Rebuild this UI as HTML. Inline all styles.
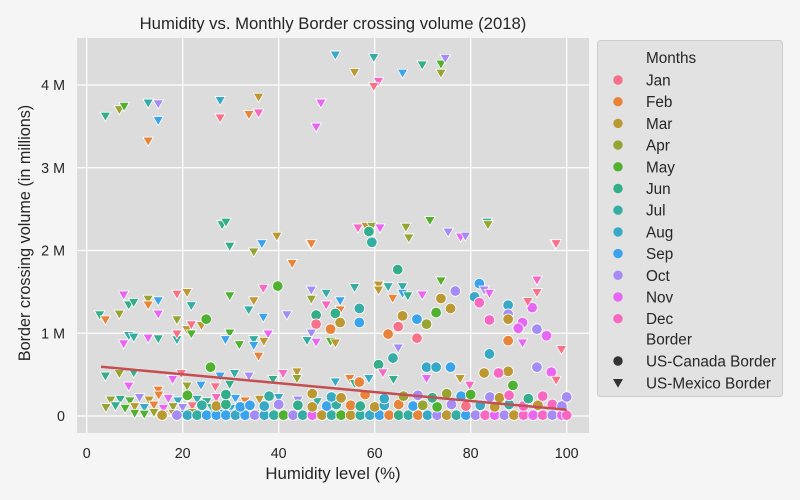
<!DOCTYPE html>
<html><head><meta charset="utf-8">
<style>
html,body{margin:0;padding:0;background:#f5f5f5;}
svg{display:block;font-family:"Liberation Sans","DejaVu Sans",sans-serif;}
</style></head>
<body>
<svg id="chart" width="800" height="500" viewBox="0 0 800 500">
<rect x="0" y="0" width="800" height="500" fill="#f5f5f5"/>
<text x="333" y="29" text-anchor="middle" font-size="16.7" fill="#262626">Humidity vs. Monthly Border crossing volume (2018)</text>
<rect x="77" y="38" width="512" height="395" fill="#dcdcdc"/>
<g id="grid"></g>
<g id="points"></g>
<g id="trend"></g>
<g id="ticks"></g>
<text x="333" y="479" text-anchor="middle" font-size="16.8" fill="#262626">Humidity level (%)</text>
<text x="30" y="233" text-anchor="middle" font-size="16.2" fill="#262626" transform="rotate(-90 30 233)">Border crossing volume (in millions)</text>
<g id="legend"></g>
</svg>
<script>
const monthNames=["Jan","Feb","Mar","Apr","May","Jun","Jul","Aug","Sep","Oct","Nov","Dec"];
const monthColors=["#f77189","#e8833a","#bb9832","#97a431","#50b131","#34ae8a","#36ada4","#38a9c5","#3ba3ec","#a48cf4","#e866f4","#f668c2"];
const xTicks=[0,20,40,60,80,100];
const yTicks=[0,1,2,3,4];
const yTickLabels=["0","1 M","2 M","3 M","4 M"];
const trendHum=[3,100];
const trendVol=[0.595,0.075];
// humidity (%), volume (millions), month index (0=Jan), border (C=US-Canada, M=US-Mexico)
const humidity=[
51.8,59.8,55.8,65.8,69.9,73.8,74.7,73.8,60.8,59.8,3.9,6.8,7.8,12.8,14.9,14.9,12.8,27.8,27.8,35.8,33.8,35.8,48.8,47.8,
28.2,29.0,29.9,36.5,39.6,46.7,56.5,58.2,59.4,61.1,66.5,67.1,71.5,75.3,83.4,83.6,77.9,78.9,97.6,58.8,59.4,
29.8,34.8,42.8,46.8,39.8,64.8,7.7,8.75,9.8,2.7,3.9,6.8,12.8,12.8,14.9,14.9,18.8,20.9,21.8,18.8,20.9,21.8,23.9,24.9,21.8,18.8,18.8,8.75,9.8,7.7,12.8,14.9,
29.8,29.8,34.8,33.75,36.8,36.8,41.7,37.8,28.9,31.8,34.8,34.8,36.9,35.8,46.8,46.8,49.9,49.9,52.8,52.8,55.8,47.8,51.8,47.8,50.8,52.8,56.8,56.8,46.8,47.8,45.9,50.8,51.8,
60.8,60.8,62.8,65.8,65.8,66.9,63.75,69.9,73.8,73.8,76.8,72.8,75.8,65.8,68.8,70.8,62.8,64.9,68.8,64.9,63.8,60.8,
81.8,80.8,81.8,82.8,83.9,83.9,87.8,87.8,87.8,87.8,90.8,89.9,92.8,91.9,93.8,93.8,93.8,95.8,90.8,98.9,97.8,83.9,82.8,70.8,72.8,75.8,93.8,96.8,87.8,85.8,88.8,97.8,25.8,77.8,79.8,70.8,61.7,40.9,43.8,43.8,
3.9,6.8,9.8,8.75,19.7,27.8,30.8,33.8,38.8,26.8,29.8,23.8,17.9,14.9,20.9,51.8,54.8,58.8,55.8,56.8,63.9,
5,7,9,11,13,15,17,19,21,23,25,27,29,31,33,36,40,44,48,
4,6,8,10,12,14,16,18,20,22,24,26,28,30,32,34,
10,12,14,16,18,20,22,24,26,28,30,35,42,47,
15.7,18.8,21,23,25,27,29,31,33,35,37,39,41,43,45,47,49,51,53,55,57,59,61,63,65,67,69,71,73,75,77,79,81,83,85,87,89,91,93,95,97,99,100,
24,27,29,32,34,37,40,44,47,50,52,55,57,60,62,65,68,70,73,76,79,82,85,88,91,94,97,99,
21,29,38,47,51,53,58,62,66,69,72,75,78,80,84,86,88,92,95,100
];
const volume=[
4.36,4.33,4.15,4.14,4.24,4.25,4.32,4.14,4.04,3.98,3.62,3.70,3.74,3.78,3.77,3.57,3.32,3.81,3.60,3.85,3.64,3.66,3.78,3.49,
2.31,2.34,2.05,2.08,2.17,2.07,2.27,2.29,2.29,2.27,2.28,2.15,2.36,2.22,2.34,2.31,2.16,2.17,2.08,2.23,2.10,
2.05,1.98,1.84,2.08,1.57,1.77,1.46,1.34,1.37,1.22,1.16,1.23,1.41,1.34,1.39,1.23,1.47,1.49,1.33,1.16,1.04,1.10,1.09,1.17,0.99,0.92,0.99,0.97,0.95,0.87,0.94,0.93,
1.45,1.00,1.39,1.28,1.54,1.19,1.22,0.99,0.92,0.86,0.92,0.85,0.90,0.72,1.52,1.41,1.48,1.34,1.39,1.28,1.55,1.22,1.24,1.11,1.05,1.13,1.30,1.13,1.00,0.89,0.91,0.90,0.88,
1.58,1.52,1.56,1.56,1.48,1.45,1.42,1.46,1.63,1.42,1.51,1.25,1.30,1.21,1.17,1.11,0.99,1.08,0.94,0.82,0.70,0.62,
1.60,1.44,1.37,1.52,1.48,1.16,1.34,1.23,1.17,0.91,1.13,1.06,1.31,1.38,1.64,1.49,1.05,0.97,0.88,0.80,2.08,0.75,0.52,0.59,0.59,0.59,0.59,0.53,0.54,0.52,0.37,0.43,0.59,0.45,0.37,0.45,0.52,0.51,0.53,0.45,
0.48,0.51,0.52,0.36,0.51,0.48,0.51,0.48,0.44,0.35,0.38,0.37,0.44,0.31,0.36,0.41,0.45,0.45,0.39,0.41,0.44,
0.19,0.20,0.18,0.22,0.19,0.25,0.21,0.18,0.23,0.20,0.17,0.22,0.19,0.21,0.18,0.20,0.22,0.19,0.17,
0.10,0.12,0.09,0.11,0.10,0.13,0.09,0.11,0.10,0.12,0.09,0.10,0.11,0.09,0.12,0.10,
0.03,0.02,0.04,0.02,0.03,0.02,0.04,0.03,0.02,0.03,0.02,0.03,0.02,0.03,
0.01,0.01,0.01,0.01,0.01,0.01,0.01,0.01,0.01,0.01,0.01,0.01,0.01,0.01,0.01,0.01,0.01,0.01,0.01,0.01,0.01,0.01,0.01,0.01,0.01,0.01,0.01,0.01,0.01,0.01,0.01,0.01,0.01,0.01,0.01,0.01,0.01,0.01,0.01,0.01,0.01,0.01,0.01,
0.13,0.12,0.14,0.11,0.13,0.12,0.14,0.13,0.11,0.12,0.14,0.13,0.12,0.11,0.13,0.14,0.12,0.13,0.11,0.14,0.12,0.13,0.11,0.14,0.12,0.13,0.14,0.12,
0.25,0.26,0.24,0.27,0.23,0.22,0.26,0.21,0.24,0.25,0.22,0.27,0.24,0.26,0.23,0.22,0.25,0.21,0.24,0.23
];
const month=[
7,6,2,8,5,4,9,3,11,0,5,3,4,6,9,8,1,7,0,2,1,11,10,10,
5,5,4,8,2,1,11,2,3,10,3,3,4,9,5,3,10,9,0,5,6,
5,3,1,1,4,5,10,5,5,5,1,3,3,1,8,10,0,2,6,3,2,0,2,4,4,6,0,6,6,10,10,5,
4,4,2,6,11,8,9,10,8,4,6,8,2,1,9,3,6,11,8,1,6,5,5,0,1,2,6,8,9,10,6,4,2,
2,2,6,6,8,5,1,10,4,2,9,4,2,2,8,3,1,0,0,9,6,5,
8,7,11,9,10,11,7,9,2,1,10,10,10,0,11,0,9,10,10,0,0,7,2,7,7,8,9,10,2,11,4,0,4,2,11,10,11,11,2,3,
5,3,5,10,0,8,6,9,5,0,5,8,10,1,3,7,1,7,5,1,5,
3,5,4,9,2,1,10,7,0,6,5,11,3,8,1,2,7,9,6,
3,5,4,2,7,1,10,3,9,0,6,5,8,7,2,11,
4,4,3,1,2,5,3,7,6,8,9,4,10,4,
2,9,7,6,8,8,8,7,8,9,7,6,4,9,6,10,2,6,4,2,6,7,8,1,5,6,1,7,9,2,6,8,9,11,10,9,2,11,10,11,9,10,11,
6,2,5,8,8,7,9,5,2,8,6,1,5,2,7,1,8,3,4,9,0,7,2,6,11,2,11,9,
4,5,6,2,7,2,1,7,3,9,5,3,8,4,9,2,11,5,11,9
];
const border=[
"M","M","M","M","M","M","M","M","M","M","M","M","M","M","M","M","M","M","M","M","M","M","M","M",
"M","M","M","M","M","M","M","M","M","M","M","M","M","M","M","M","M","M","M","C","C",
"M","M","M","M","C","C","M","M","M","M","M","M","M","M","M","M","M","M","M","M","M","M","M","C","M","M","M","M","M","M","M","M",
"M","M","M","M","M","M","M","M","M","M","M","M","M","M","M","M","M","M","M","M","M","C","C","C","C","C","C","C","M","M","M","M","M",
"M","M","M","M","M","M","M","M","M","C","C","C","C","C","C","C","C","C","C","M","C","C",
"C","C","C","M","M","C","C","C","C","C","C","C","C","M","M","M","C","C","M","M","M","C","C","C","C","C","C","C","C","C","C","M","C","M","M","M","M","M","M","M",
"M","M","M","M","M","M","M","M","M","M","M","M","M","M","M","M","M","M","M","C","M",
"M","M","M","M","M","M","M","M","M","M","M","M","M","M","M","M","M","M","M",
"M","M","M","M","M","M","M","M","M","M","M","M","M","M","M","M",
"M","M","M","M","M","M","M","M","M","M","M","M","M","M",
"C","C","C","C","C","C","C","C","C","C","C","C","C","C","C","C","C","C","C","C","C","C","C","C","C","C","C","C","C","C","C","C","C","C","C","C","C","C","C","C","C","C","C",
"C","C","C","C","C","C","C","C","C","C","C","C","C","C","C","C","C","C","C","C","C","C","C","C","C","C","C","C",
"C","C","C","C","C","C","C","C","C","C","C","C","C","C","C","C","C","C","C","C"
];

const NS="http://www.w3.org/2000/svg";
const X0=77,X1=589,Y0=38,Y1=433;
function xScale(h){return 86.7+h*4.8;}
function yScale(v){return 416-v*82.75;}
function mk(tag,attrs,parent){const e=document.createElementNS(NS,tag);for(const k in attrs)e.setAttribute(k,attrs[k]);parent.appendChild(e);return e;}

const grid=document.getElementById('grid');
xTicks.forEach(t=>{
  const l=mk('line',{x1:xScale(t),x2:xScale(t),y1:Y0,y2:Y1,stroke:'#ffffff','stroke-width':1.2},grid);
  
  
});
yTicks.forEach(t=>{
  const l=mk('line',{x1:X0,x2:X1,y1:yScale(t),y2:yScale(t),stroke:'#ffffff','stroke-width':1.2},grid);
  
  
});
const ticks=document.getElementById('ticks');
xTicks.forEach(t=>{
  const tx=mk('text',{x:xScale(t),y:458,'text-anchor':'middle','font-size':14.3,fill:'#262626'},ticks);
  tx.textContent=String(t);
  
  
});
yTicks.forEach((t,i)=>{
  const tx=mk('text',{x:65,y:yScale(t)+5,'text-anchor':'end','font-size':14.3,fill:'#262626'},ticks);
  tx.textContent=yTickLabels[i];
  
  
});

function tri(cx,cy,s){return `${cx-s},${cy-s*0.8} ${cx+s},${cy-s*0.8} ${cx},${cy+s*0.95}`;}
const pts=document.getElementById('points');
for(let i=0;i<humidity.length;i++){
  const cx=xScale(humidity[i]),cy=yScale(volume[i]),col=monthColors[month[i]];
  let e;
  if(border[i]==="C"){
    e=mk('circle',{cx:cx,cy:cy,r:5.3,fill:col,stroke:'#ffffff','stroke-width':0.8},pts);
    
  } else {
    e=mk('polygon',{points:tri(cx,cy,5.2),fill:col,stroke:'#ffffff','stroke-width':0.8},pts);
    
  }
  
}
const trend=document.getElementById('trend');
const tl=mk('line',{x1:xScale(trendHum[0]),y1:yScale(trendVol[0]),x2:xScale(trendHum[1]),y2:yScale(trendVol[1]),stroke:'#c44e52','stroke-width':2.5},trend);



const lg=document.getElementById('legend');
const box=mk('rect',{x:597.5,y:40.5,width:185,height:356,rx:3,fill:'#e2e2e2',stroke:'#cccccc','stroke-width':1},lg);


function ltext(y,s,name){const t=mk('text',{x:646,y:y+5.5,'font-size':15.3,fill:'#262626'},lg);t.textContent=s;
  
  }
ltext(57.7,'Months','legend-months-title');
monthNames.forEach((m,i)=>{
  const y=80+i*21.7;
  const c=mk('circle',{cx:618,cy:y,r:4.7,fill:monthColors[i]},lg);
  
  
  ltext(y,m,'legend-entry-'+m.toLowerCase());
});
ltext(339,'Border','legend-border-title');
const cc=mk('circle',{cx:618,cy:361,r:4.7,fill:'#333333'},lg);


ltext(361,'US-Canada Border','legend-entry-canada');
const tm=mk('polygon',{points:tri(618,383,5),fill:'#333333'},lg);


ltext(383,'US-Mexico Border','legend-entry-mexico');
</script>
</body></html>
